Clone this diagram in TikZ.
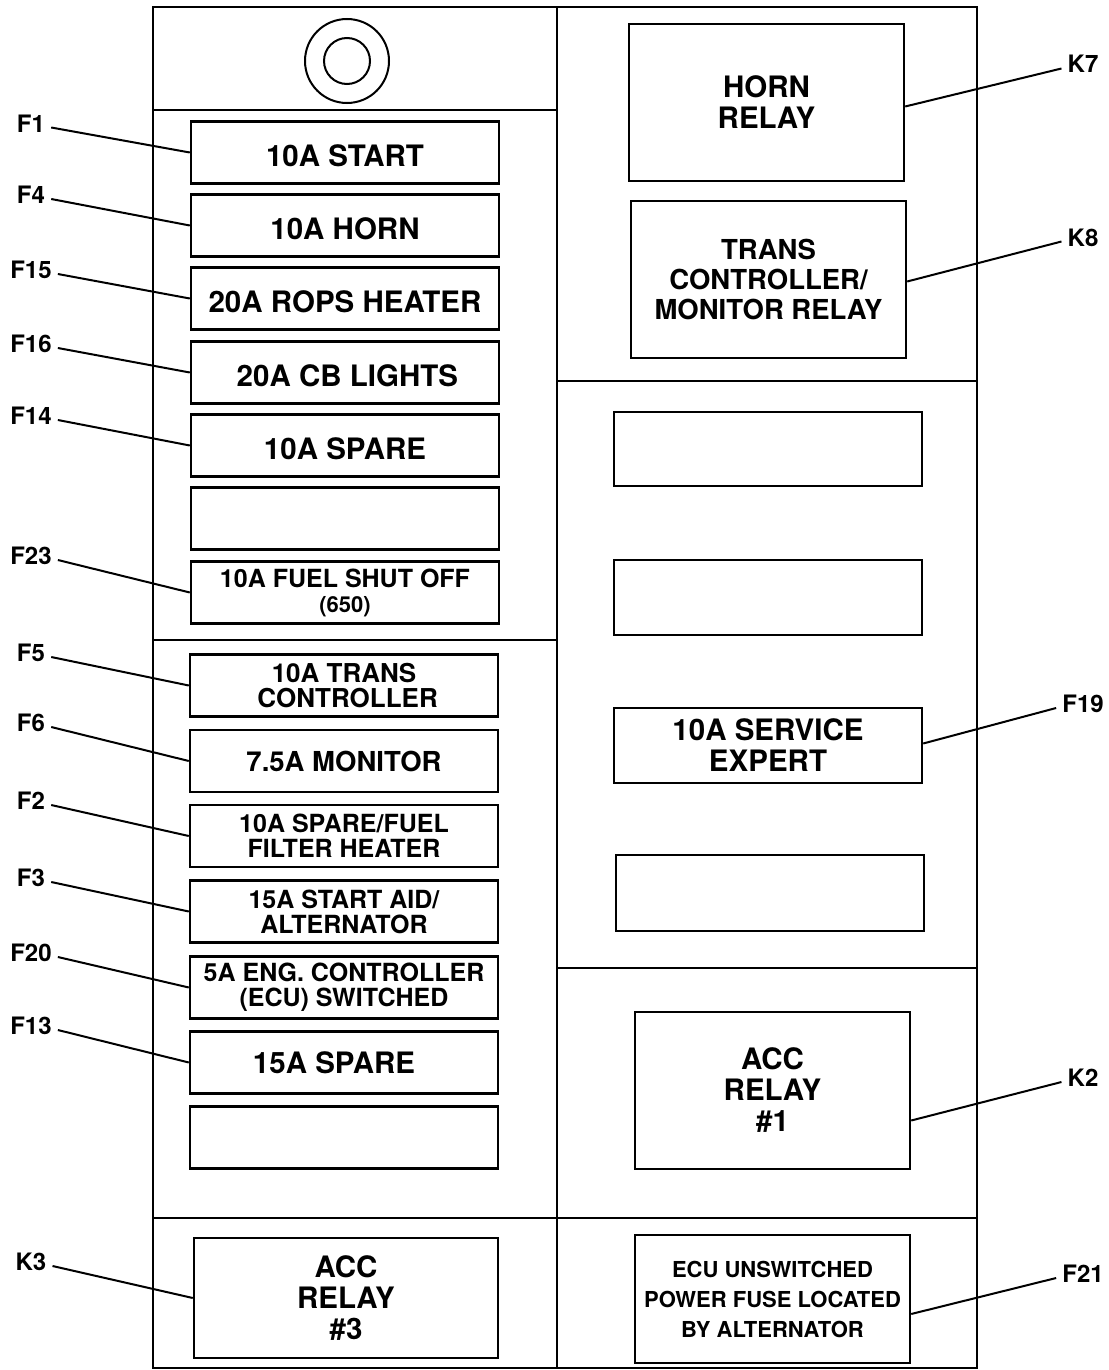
\documentclass[tikz,border=0pt]{standalone}
\usepackage{fontspec}
\setmainfont{TeX Gyre Heros}
\begin{document}
\begin{tikzpicture}[x=1pt,y=-1pt,
  fuse/.style={draw,line width=2.4pt,minimum width=308pt,minimum height=62pt,inner sep=0pt,align=center},
  relay/.style={draw,line width=2.4pt,minimum width=275pt,minimum height=157pt,inner sep=0pt,align=center},
  txtbig/.style={font=\fontsize{29.5}{31}\selectfont\bfseries},
  txtlow/.style={txtbig,text height=28pt},
  txtrel/.style={font=\fontsize{27.5}{30}\selectfont\bfseries},
  txtmid/.style={font=\fontsize{25}{25}\selectfont\bfseries},
  txtecu/.style={font=\fontsize{22}{30}\selectfont\bfseries},
  tag/.style={font=\fontsize{24}{24}\selectfont\bfseries,inner xsep=6pt,inner ysep=0pt,text height=17pt,text depth=8pt},
  lead/.style={line width=2pt}]
\useasboundingbox (0,0) rectangle (1108,1370);
% housing
\draw[line width=2.4pt](153,7) rectangle (977,1368);
\draw[line width=2.2pt](557,7)--(557,1368)
(153,110)--(557,110) (153,640)--(557,640) (153,1218)--(977,1218)
(557,381)--(977,381) (557,968)--(977,968);
\draw[line width=2pt](347,61) circle[radius=42pt] (347,61) circle[radius=23pt];
% upper fuse block
\node[fuse,txtlow] (f1) at (345,152.5) {10A START};
\node[fuse,txtlow] (f4) at (345,225.5) {10A HORN};
\node[fuse,txtlow] (f15) at (345,298.5) {20A ROPS HEATER};
\node[fuse,txtlow] (f16) at (345,372.5) {\,20A CB LIGHTS};
\node[fuse,txtlow] (f14) at (345,445.5) {10A SPARE};
\node[fuse] (e1) at (345,518.5) {};
\node[fuse,txtmid] (f23) at (345,592.5) {10A FUEL SHUT OFF\\{\fontsize{22}{22}\selectfont(650)}};
% lower fuse block
\node[fuse,txtmid,font=\fontsize{26}{25}\selectfont\bfseries] (f5) at (344,685.5) {10A TRANS\\\ CONTROLLER};
\node[fuse,txtrel] (f6) at (344,761) {7.5A MONITOR};
\node[fuse,txtmid] (f2) at (344,836) {10A SPARE/FUEL\\FILTER HEATER};
\node[fuse,txtmid] (f3) at (344,911.5) {15A START AID/\\ALTERNATOR};
\node[fuse,txtmid] (f20) at (344,987.5) {5A ENG. CONTROLLER\\(ECU) SWITCHED};
\node[fuse,txtbig] (f13) at (344,1062.5) {15A SPARE\hspace{20pt}};
\node[fuse] (e2) at (344,1137.5) {};
\node[relay,txtbig,minimum width=304pt,minimum height=120pt] (k3) at (346,1298) {ACC\\RELAY\\\#3};
% right column
\node[relay,txtbig] (k7) at (766.5,102.5) {HORN\\RELAY};
\node[relay,txtrel] (k8) at (768.5,279.5) {TRANS\\CONTROLLER/\\MONITOR RELAY};
\node[fuse,minimum height=74pt] (e3) at (768,449) {};
\node[fuse,minimum height=75pt] (e4) at (768,597.5) {};
\node[fuse,txtbig,minimum height=75pt] (f19) at (768,745.5) {10A SERVICE\\EXPERT};
\node[fuse,minimum height=76pt] (e5) at (770,893) {};
\node[relay,txtbig] (k2) at (772.5,1090.5) {ACC\\RELAY\\\#1};
\node[relay,txtecu,minimum height=128pt] (f21) at (772.5,1299) {ECU UNSWITCHED\\POWER FUSE LOCATED\\BY ALTERNATOR};
% callouts
\node[tag] (tf1) at (31,127.5) {F1};
\node[tag] (tf4) at (31,199) {F4};
\node[tag] (tf15) at (31,274) {F15};
\node[tag] (tf16) at (31,348) {F16};
\node[tag] (tf14) at (31,420) {F14};
\node[tag] (tf23) at (31,560) {F23};
\node[tag] (tf5) at (31,657) {F5};
\node[tag] (tf6) at (31,727) {F6};
\node[tag] (tf2) at (31,805) {F2};
\node[tag] (tf3) at (31,882) {F3};
\node[tag] (tf20) at (31,957) {F20};
\node[tag] (tf13) at (31,1030) {F13};
\node[tag] (tk3) at (31,1266) {K3};
\node[tag] (tk7) at (1083,68.5) {K7};
\node[tag] (tk8) at (1083,241.5) {K8};
\node[tag] (tf19) at (1083,708) {F19};
\node[tag] (tk2) at (1083,1082) {K2};
\node[tag] (tf21) at (1083,1278) {F21};
\draw[lead](tf1.east)--(f1.west) (tf4.east)--(f4.west) (tf15.east)--(f15.west)
(tf16.east)--(f16.west) (tf14.east)--(f14.west) (tf23.east)--(f23.west)
(tf5.east)--(f5.west) (tf6.east)--(f6.west) (tf2.east)--(f2.west)
(tf3.east)--(f3.west) (tf20.east)--(f20.west) (tf13.east)--(f13.west)
(tk3.east)--(k3.west);
\draw[lead]([yshift=-4pt]k7.east)--(tk7.west) ([yshift=-2pt]k8.east)--(tk8.west)
([yshift=2pt]f19.east)--(tf19.west) ([yshift=-30pt]k2.east)--(tk2.west)
([yshift=-15pt]f21.east)--(tf21.west);
\end{tikzpicture}
\end{document}
